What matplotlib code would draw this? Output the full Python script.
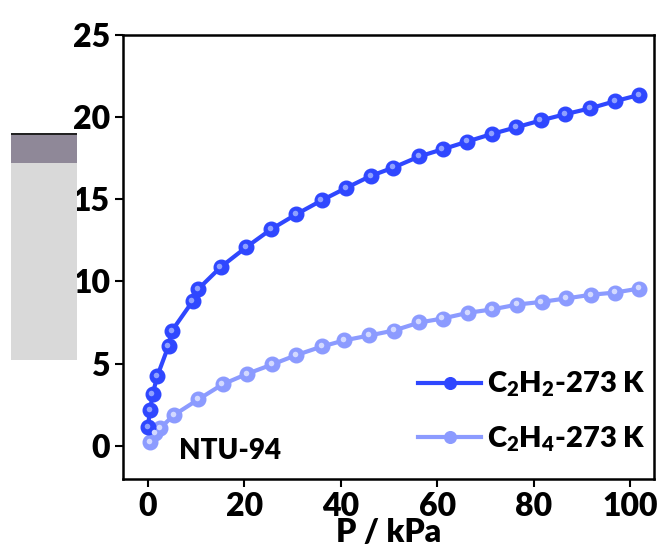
import matplotlib
matplotlib.use('Agg')
import matplotlib.pyplot as plt
from matplotlib.patches import Rectangle
from matplotlib.transforms import ScaledTranslation

# C2H2 isotherm at 273 K (P in kPa, uptake)
p_c2h2 = [0.0, 0.5, 1.0, 2.0, 4.3, 5.0, 9.3, 10.5, 15.1, 20.4, 25.5, 30.7, 36.0,
          41.1, 46.2, 50.9, 56.3, 61.1, 66.2, 71.3, 76.4, 81.4, 86.5, 91.7, 96.8, 101.8]
q_c2h2 = [1.15, 2.19, 3.14, 4.27, 6.09, 7.0, 8.8, 9.55, 10.87, 12.08, 13.16, 14.07, 14.92,
          15.68, 16.41, 16.92, 17.6, 18.03, 18.5, 18.96, 19.37, 19.78, 20.16, 20.52, 20.95, 21.33]

# C2H4 isotherm at 273 K
p_c2h4 = [0.5, 1.5, 2.5, 5.4, 10.5, 15.5, 20.6, 25.8, 30.8, 36.1, 40.7, 45.9, 51.0,
          56.3, 61.1, 66.4, 71.3, 76.6, 81.6, 86.7, 91.8, 96.9, 101.8]
q_c2h4 = [0.26, 0.77, 1.07, 1.88, 2.84, 3.75, 4.39, 4.96, 5.53, 6.05, 6.42, 6.72, 7.02,
          7.51, 7.75, 8.1, 8.3, 8.6, 8.76, 8.97, 9.19, 9.33, 9.57]

xticks = [0, 20, 40, 60, 80, 100]
yticks = [0, 5, 10, 15, 20, 25]

plt.rcParams['font.family'] = ['Lato', 'DejaVu Sans']
plt.rcParams['font.weight'] = 'heavy'
plt.rcParams['mathtext.default'] = 'regular'

fig = plt.figure(figsize=(6.62, 5.57), dpi=100)
ax = fig.add_axes([0.186, 0.140, 0.802, 0.798])

col1 = '#2f47ff'
col2 = '#8c9bff'

# little highlight on each marker, shifted up-left
shine = ax.transData + ScaledTranslation(-0.012, 0.012, fig.dpi_scale_trans)

ax.plot(p_c2h2, q_c2h2, '-o', color=col1, lw=3, ms=10.5, mec=col1, mfc=col1,
        label='$\\mathregular{C_2H_2}$-273 K', zorder=3)
ax.plot(p_c2h2, q_c2h2, 'o', color='#8fa0ff', ms=4, mec='none', zorder=4, transform=shine)
ax.plot(p_c2h4, q_c2h4, '-o', color=col2, lw=3, ms=10.5, mec=col2, mfc=col2,
        label='$\\mathregular{C_2H_4}$-273 K', zorder=2)
ax.plot(p_c2h4, q_c2h4, 'o', color='#d3d9ff', ms=4, mec='none', zorder=4, transform=shine)

ax.set_xlim(-5.1, 104.9)
ax.set_ylim(-2.0, 25)
ax.set_xticks(xticks)
ax.set_yticks(yticks)
ax.tick_params(axis='both', direction='out', length=6, width=1.5, labelsize=23,
               top=False, right=False)
for lbl in ax.get_xticklabels() + ax.get_yticklabels():
    lbl.set_fontweight('heavy')
for s in ax.spines.values():
    s.set_linewidth(1.8)

ax.set_xlabel('P / kPa', fontsize=23, fontweight='heavy', labelpad=-2)

ax.text(6.5, -0.3, 'NTU-94', fontsize=20, fontweight='heavy', va='center')

leg = ax.legend(loc='lower right', frameon=False, fontsize=21, handlelength=2.15,
                handletextpad=0.2, labelspacing=0.85, borderaxespad=0.0,
                markerscale=0.8, bbox_to_anchor=(1.006, 0.031))
for t in leg.get_texts():
    t.set_fontweight('heavy')

# grey placeholder block on the left
fig.patches.append(Rectangle((0.0166, 0.3537), 0.0997, 0.4073, transform=fig.transFigure,
                             facecolor='#d9d9d9', edgecolor='none'))
fig.patches.append(Rectangle((0.0166, 0.708), 0.0997, 0.050, transform=fig.transFigure,
                             facecolor='#8f8898', edgecolor='none'))
fig.patches.append(Rectangle((0.0166, 0.757), 0.0997, 0.004, transform=fig.transFigure,
                             facecolor='#222222', edgecolor='none'))

fig.savefig('out.png', dpi=100)
